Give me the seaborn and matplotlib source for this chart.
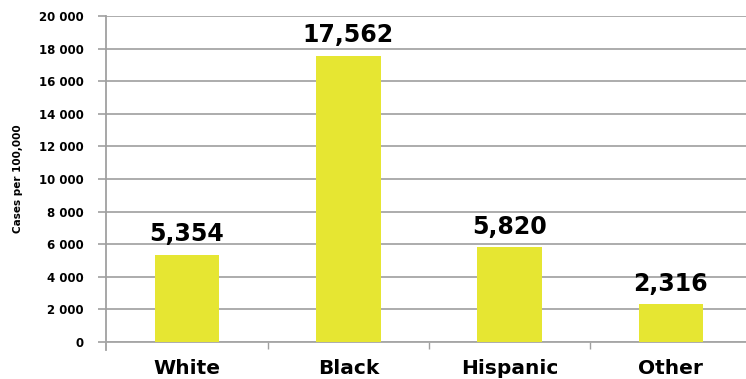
import seaborn as sns
import matplotlib.pyplot as plt
import pandas as pd

groups = ['White', 'Black', 'Hispanic', 'Other']
rates = [5354, 17562, 5820, 2316]
y_ticks = [0, 2000, 4000, 6000, 8000, 10000, 12000, 14000, 16000, 18000, 20000]

df = pd.DataFrame({'group': groups, 'rate': rates})

sns.set_style('white')
plt.rcParams['font.family'] = ['DejaVu Sans']
plt.rcParams['text.color'] = 'black'
plt.rcParams['xtick.color'] = 'black'
plt.rcParams['ytick.color'] = 'black'
plt.rcParams['axes.labelcolor'] = 'black'

fig = plt.figure(figsize=(7.46, 3.79), dpi=100)
ax = fig.add_axes([0.1425, 0.0976, 0.865, 0.860])

sns.barplot(data=df, x='group', y='rate', color='#E6E632', saturation=1,
            width=0.40, ax=ax, zorder=3, linewidth=0, edgecolor='none')

# value labels on top of bars
for i, v in enumerate(rates):
    ax.annotate(f'{v:,}', (i, v), xytext=(0, 6), textcoords='offset points',
                ha='center', va='bottom', fontsize=17, fontweight='heavy',
                color='black')

ax.set_xlim(-0.5, 3.5)
ax.set_ylim(0, 20000)
ax.set_yticks(y_ticks)
ax.set_yticklabels([f'{t:,}'.replace(',', ' ') for t in y_ticks],
                   fontsize=8.5, fontweight='bold')
ax.set_xticks(range(len(groups)))
ax.set_xticklabels(groups, fontsize=14.5, fontweight='bold')
ax.set_xticks([0.5, 1.5, 2.5], minor=True)
ax.tick_params(axis='x', which='major', length=0, pad=12, labelcolor='black')
ax.tick_params(axis='x', which='minor', bottom=True, length=5,
               color='#a0a0a0', width=1)
ax.tick_params(axis='y', length=6, color='#a0a0a0', width=1.2, pad=10,
               left=True, labelcolor='black')

ax.set_xlabel('')
ax.set_ylabel('Cases per 100,000', fontsize=7.5, fontweight='bold', labelpad=12)

ax.yaxis.grid(True, color='#a6a6a6', linewidth=1.3, zorder=0)
ax.set_axisbelow(True)
for s in ['top', 'right']:
    ax.spines[s].set_visible(False)
ax.spines['left'].set_color('#a0a0a0')
ax.spines['left'].set_linewidth(1.3)
ax.spines['left'].set_bounds(-500, 20000)
ax.spines['bottom'].set_color('#a6a6a6')
ax.spines['bottom'].set_linewidth(1.3)

fig.savefig('out.png', dpi=100)
